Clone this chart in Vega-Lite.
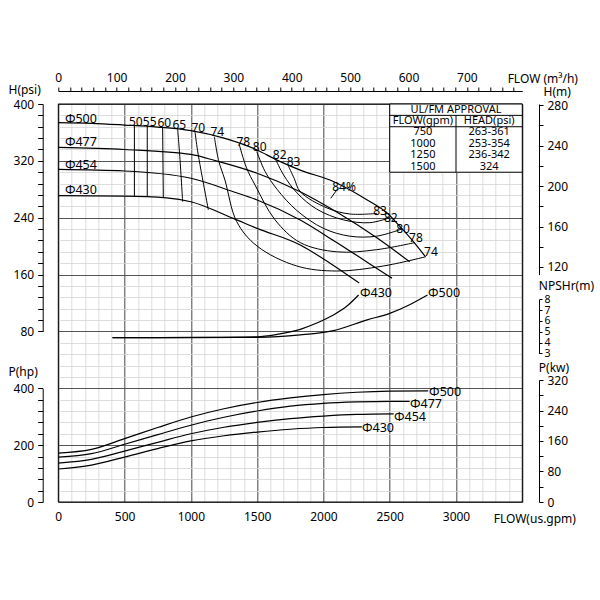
{
  "$schema": "https://vega.github.io/schema/vega-lite/v6.json",
  "width": 464,
  "height": 398,
  "autosize": {"type": "none"},
  "padding": {"left": 58.3, "top": 104, "right": 77.7, "bottom": 98},
  "background": "white",
  "config": {
    "view": {"stroke": null},
    "font": "Noto Sans",
    "axis": {"labelFont": "Noto Sans", "titleFont": "Noto Sans", "labelFontSize": 12, "titleFontSize": 12, "titleFontWeight": "normal", "labelColor": "#000", "titleColor": "#000", "domainColor": "#000", "tickColor": "#000", "labelFlush": false, "labelOverlap": false},
    "text": {"font": "Noto Sans", "fontSize": 12, "color": "#000"}
  },
  "datasets": {
    "frame": [{"q": 0, "q2": 3500, "h": -160, "h2": 400}],
    "head": [
      {"d": "Φ500", "q": 0, "h": 373.7}, {"d": "Φ500", "q": 250, "h": 372.8}, {"d": "Φ500", "q": 500, "h": 370.4}, {"d": "Φ500", "q": 750, "h": 367.5}, {"d": "Φ500", "q": 1000, "h": 362.5}, {"d": "Φ500", "q": 1250, "h": 352}, {"d": "Φ500", "q": 1500, "h": 335.3}, {"d": "Φ500", "q": 1650, "h": 321}, {"d": "Φ500", "q": 1825, "h": 307}, {"d": "Φ500", "q": 2075, "h": 291}, {"d": "Φ500", "q": 2330, "h": 265}, {"d": "Φ500", "q": 2480, "h": 246.6}, {"d": "Φ500", "q": 2580, "h": 227}, {"d": "Φ500", "q": 2680, "h": 206}, {"d": "Φ500", "q": 2770, "h": 185},
      {"d": "Φ477", "q": 0, "h": 339}, {"d": "Φ477", "q": 500, "h": 336}, {"d": "Φ477", "q": 1000, "h": 329}, {"d": "Φ477", "q": 1190, "h": 320}, {"d": "Φ477", "q": 1500, "h": 302.5}, {"d": "Φ477", "q": 1825, "h": 276.6}, {"d": "Φ477", "q": 2100, "h": 248}, {"d": "Φ477", "q": 2400, "h": 212}, {"d": "Φ477", "q": 2650, "h": 178},
      {"d": "Φ454", "q": 0, "h": 308}, {"d": "Φ454", "q": 500, "h": 305.7}, {"d": "Φ454", "q": 1000, "h": 295.5}, {"d": "Φ454", "q": 1320, "h": 276.6}, {"d": "Φ454", "q": 1500, "h": 265}, {"d": "Φ454", "q": 1825, "h": 236.8}, {"d": "Φ454", "q": 2100, "h": 205}, {"d": "Φ454", "q": 2350, "h": 175}, {"d": "Φ454", "q": 2517, "h": 155},
      {"d": "Φ430", "q": 0, "h": 271}, {"d": "Φ430", "q": 500, "h": 270.5}, {"d": "Φ430", "q": 817, "h": 268}, {"d": "Φ430", "q": 1000, "h": 262.5}, {"d": "Φ430", "q": 1320, "h": 239}, {"d": "Φ430", "q": 1500, "h": 225}, {"d": "Φ430", "q": 1825, "h": 201.6}, {"d": "Φ430", "q": 2050, "h": 176}, {"d": "Φ430", "q": 2270, "h": 148}
    ],
    "eff": [
      {"e": "50", "q": 574, "h": 369.8}, {"e": "50", "q": 574, "h": 270.3},
      {"e": "55", "q": 671, "h": 369}, {"e": "55", "q": 671, "h": 269.8},
      {"e": "60", "q": 787, "h": 367.3}, {"e": "60", "q": 792, "h": 268.3},
      {"e": "65", "q": 900, "h": 365}, {"e": "65", "q": 915, "h": 330}, {"e": "65", "q": 938, "h": 262.5},
      {"e": "70", "q": 1031, "h": 361}, {"e": "70", "q": 1050, "h": 335}, {"e": "70", "q": 1076, "h": 307}, {"e": "70", "q": 1132, "h": 251},
      {"e": "74", "q": 1177, "h": 354}, {"e": "74", "q": 1210, "h": 320}, {"e": "74", "q": 1257, "h": 293}, {"e": "74", "q": 1346, "h": 234.4}, {"e": "74", "q": 1500, "h": 200}, {"e": "74", "q": 1800, "h": 172}, {"e": "74", "q": 2100, "h": 165}, {"e": "74", "q": 2450, "h": 172}, {"e": "74", "q": 2770, "h": 185},
      {"e": "78", "q": 1365, "h": 343}, {"e": "78", "q": 1420, "h": 310}, {"e": "78", "q": 1484, "h": 286}, {"e": "78", "q": 1635, "h": 237}, {"e": "78", "q": 1825, "h": 205}, {"e": "78", "q": 2100, "h": 192}, {"e": "78", "q": 2400, "h": 195}, {"e": "78", "q": 2690, "h": 205},
      {"e": "80", "q": 1497, "h": 333}, {"e": "80", "q": 1560, "h": 305}, {"e": "80", "q": 1650, "h": 280}, {"e": "80", "q": 1800, "h": 250}, {"e": "80", "q": 2000, "h": 225}, {"e": "80", "q": 2200, "h": 214}, {"e": "80", "q": 2400, "h": 214}, {"e": "80", "q": 2590, "h": 224},
      {"e": "82", "q": 1642, "h": 321}, {"e": "82", "q": 1700, "h": 300}, {"e": "82", "q": 1800, "h": 275}, {"e": "82", "q": 1950, "h": 252}, {"e": "82", "q": 2150, "h": 237}, {"e": "82", "q": 2350, "h": 233}, {"e": "82", "q": 2500, "h": 240},
      {"e": "83", "q": 1735, "h": 313}, {"e": "83", "q": 1780, "h": 295}, {"e": "83", "q": 1825, "h": 276.6}, {"e": "83", "q": 2027, "h": 253.7}, {"e": "83", "q": 2200, "h": 245.2}, {"e": "83", "q": 2403, "h": 246},
      {"e": "84", "q": 2055, "h": 267.3}, {"e": "84", "q": 2110, "h": 281.4}
    ],
    "effLabels": [
      {"t": "50", "q": 585, "h": 375.1}, {"t": "55", "q": 689, "h": 375.1}, {"t": "60", "q": 800, "h": 373.7}, {"t": "65", "q": 913, "h": 370.5}, {"t": "70", "q": 1056, "h": 365.8}, {"t": "74", "q": 1199, "h": 361}, {"t": "78", "q": 1395, "h": 347}, {"t": "80", "q": 1519, "h": 339.1}, {"t": "82", "q": 1670, "h": 328.2}, {"t": "83", "q": 1775, "h": 318.8}, {"t": "84%", "q": 2155, "h": 283.2},
      {"t": "83", "q": 2427, "h": 249.4}, {"t": "82", "q": 2508, "h": 239.6}, {"t": "80", "q": 2600, "h": 224}, {"t": "78", "q": 2698, "h": 211.5}, {"t": "74", "q": 2811, "h": 191.7}
    ],
    "headLabels": [
      {"t": "Φ500", "q": 50, "h": 378.5}, {"t": "Φ477", "q": 50, "h": 346}, {"t": "Φ454", "q": 50, "h": 314}, {"t": "Φ430", "q": 50, "h": 279}
    ],
    "tableBox": [{"q": 2500, "q2": 3500, "h": 304, "h2": 400}],
    "tableLines": [
      {"q": 2500, "q2": 3500, "h": 384, "h2": 384}, {"q": 2500, "q2": 3500, "h": 368, "h2": 368}, {"q": 3000, "q2": 3000, "h": 384, "h2": 304}
    ],
    "tableText": [
      {"t": "UL/FM APPROVAL", "q": 3000, "h": 392},
      {"t": "FLOW(gpm)", "q": 2750, "h": 376}, {"t": "HEAD(psi)", "q": 3250, "h": 376},
      {"t": "750", "q": 2750, "h": 360}, {"t": "263-361", "q": 3250, "h": 360},
      {"t": "1000", "q": 2750, "h": 344}, {"t": "253-354", "q": 3250, "h": 344},
      {"t": "1250", "q": 2750, "h": 328}, {"t": "236-342", "q": 3250, "h": 328},
      {"t": "1500", "q": 2750, "h": 312}, {"t": "324", "q": 3250, "h": 312}
    ],
    "npsh": [
      {"d": "Φ430", "q": 409, "n": 4.45}, {"d": "Φ430", "q": 1000, "n": 4.47}, {"d": "Φ430", "q": 1500, "n": 4.53}, {"d": "Φ430", "q": 1650, "n": 4.75}, {"d": "Φ430", "q": 1825, "n": 5.22}, {"d": "Φ430", "q": 1950, "n": 5.8}, {"d": "Φ430", "q": 2075, "n": 6.55}, {"d": "Φ430", "q": 2180, "n": 7.4}, {"d": "Φ430", "q": 2265, "n": 8.4},
      {"d": "Φ500", "q": 409, "n": 4.45}, {"d": "Φ500", "q": 1000, "n": 4.46}, {"d": "Φ500", "q": 1500, "n": 4.48}, {"d": "Φ500", "q": 1825, "n": 4.7}, {"d": "Φ500", "q": 2075, "n": 5.1}, {"d": "Φ500", "q": 2330, "n": 6.1}, {"d": "Φ500", "q": 2500, "n": 6.7}, {"d": "Φ500", "q": 2650, "n": 7.5}, {"d": "Φ500", "q": 2785, "n": 8.4}
    ],
    "npshLabels": [{"t": "Φ430", "q": 2276, "n": 8.55}, {"t": "Φ500", "q": 2789, "n": 8.55}],
    "power": [
      {"d": "Φ500", "q": 0, "p": 172}, {"d": "Φ500", "q": 250, "p": 185}, {"d": "Φ500", "q": 500, "p": 223}, {"d": "Φ500", "q": 750, "p": 262}, {"d": "Φ500", "q": 1000, "p": 299}, {"d": "Φ500", "q": 1250, "p": 328}, {"d": "Φ500", "q": 1500, "p": 350}, {"d": "Φ500", "q": 1750, "p": 366}, {"d": "Φ500", "q": 2000, "p": 378}, {"d": "Φ500", "q": 2250, "p": 386}, {"d": "Φ500", "q": 2500, "p": 390}, {"d": "Φ500", "q": 2790, "p": 391},
      {"d": "Φ477", "q": 0, "p": 158}, {"d": "Φ477", "q": 250, "p": 170}, {"d": "Φ477", "q": 500, "p": 203}, {"d": "Φ477", "q": 750, "p": 237}, {"d": "Φ477", "q": 1000, "p": 270}, {"d": "Φ477", "q": 1250, "p": 298}, {"d": "Φ477", "q": 1500, "p": 320}, {"d": "Φ477", "q": 1750, "p": 337}, {"d": "Φ477", "q": 2000, "p": 347}, {"d": "Φ477", "q": 2250, "p": 352}, {"d": "Φ477", "q": 2500, "p": 354}, {"d": "Φ477", "q": 2650, "p": 354},
      {"d": "Φ454", "q": 0, "p": 137}, {"d": "Φ454", "q": 250, "p": 150}, {"d": "Φ454", "q": 500, "p": 179}, {"d": "Φ454", "q": 750, "p": 210}, {"d": "Φ454", "q": 1000, "p": 240}, {"d": "Φ454", "q": 1250, "p": 263}, {"d": "Φ454", "q": 1500, "p": 280}, {"d": "Φ454", "q": 1750, "p": 293}, {"d": "Φ454", "q": 2000, "p": 302}, {"d": "Φ454", "q": 2250, "p": 308}, {"d": "Φ454", "q": 2530, "p": 310},
      {"d": "Φ430", "q": 0, "p": 116}, {"d": "Φ430", "q": 250, "p": 130}, {"d": "Φ430", "q": 500, "p": 158}, {"d": "Φ430", "q": 750, "p": 188}, {"d": "Φ430", "q": 1000, "p": 215}, {"d": "Φ430", "q": 1250, "p": 233}, {"d": "Φ430", "q": 1500, "p": 246}, {"d": "Φ430", "q": 1750, "p": 256}, {"d": "Φ430", "q": 2000, "p": 262}, {"d": "Φ430", "q": 2290, "p": 264}
    ],
    "powerLabels": [
      {"t": "Φ500", "q": 2797, "p": 387}, {"t": "Φ477", "q": 2653, "p": 343}, {"t": "Φ454", "q": 2532, "p": 299}, {"t": "Φ430", "q": 2291, "p": 260}
    ]
  },
  "resolve": {"scale": {"y": "independent"}, "axis": {"x": "independent", "y": "independent"}},
  "layer": [
    {
      "data": {"name": "frame"},
      "mark": {"type": "rect", "opacity": 0},
      "encoding": {
        "x": {"field": "q", "type": "quantitative", "scale": {"domain": [0, 3500], "nice": false, "zero": false},
          "axis": {"orient": "bottom", "values": [0,100,200,300,400,500,600,700,800,900,1000,1100,1200,1300,1400,1500,1600,1700,1800,1900,2000,2100,2200,2300,2400,2500,2600,2700,2800,2900,3000,3100,3200,3300,3400,3500], "grid": true, "gridColor": "#d4d4d4", "gridWidth": 0.8, "labels": false, "ticks": false, "tickSize": 0, "domain": false, "title": null}},
        "x2": {"field": "q2"},
        "y": {"field": "h", "type": "quantitative", "scale": {"domain": [-160, 400], "nice": false, "zero": false},
          "axis": {"orient": "left", "values": [-160,-144,-128,-112,-96,-80,-64,-48,-32,-16,0,16,32,48,64,80,96,112,128,144,160,176,192,208,224,240,256,272,288,304,320,336,352,368,384,400], "grid": true, "gridColor": "#d4d4d4", "gridWidth": 0.8, "labels": false, "ticks": false, "tickSize": 0, "domain": false, "title": null}},
        "y2": {"field": "h2"}
      }
    },
    {
      "data": {"name": "frame"},
      "mark": {"type": "rect", "fill": null, "stroke": "#000", "strokeWidth": 1},
      "encoding": {
        "x": {"field": "q", "type": "quantitative", "scale": {"domain": [0, 3500], "nice": false, "zero": false},
          "axis": {"orient": "bottom", "values": [0,500,1000,1500,2000,2500,3000,3500], "format": "d", "grid": true, "gridColor": "#555", "gridWidth": 1, "ticks": false, "tickSize": 0, "domain": false, "labelPadding": 9, "labelExpr": "datum.value == 3500 ? '' : datum.label", "title": "FLOW(us.gpm)", "titleX": 476, "titleY": 16, "titleAlign": "center", "titleBaseline": "middle"}},
        "x2": {"field": "q2"},
        "y": {"field": "h", "type": "quantitative", "scale": {"domain": [-160, 400], "nice": false, "zero": false},
          "axis": {"orient": "left", "values": [-160,-80,0,80,160,240,320,400], "grid": true, "gridColor": "#555", "gridWidth": 1, "labels": false, "ticks": false, "tickSize": 0, "domain": false, "title": null}},
        "y2": {"field": "h2"}
      }
    },
    {
      "data": {"name": "tableBox"},
      "mark": {"type": "rect", "fill": "white", "stroke": "#000", "strokeWidth": 1},
      "encoding": {
        "x": {"field": "q", "type": "quantitative", "scale": {"domain": [0, 3500], "nice": false, "zero": false}, "axis": null},
        "x2": {"field": "q2"},
        "y": {"field": "h", "type": "quantitative", "scale": {"domain": [80, 400], "range": [227.43, 0], "nice": false, "zero": false}, "axis": null},
        "y2": {"field": "h2"}
      }
    },
    {
      "data": {"name": "tableLines"},
      "mark": {"type": "rule", "color": "#000", "strokeWidth": 1},
      "encoding": {
        "x": {"field": "q", "type": "quantitative", "scale": {"domain": [0, 3500], "nice": false, "zero": false}, "axis": null},
        "x2": {"field": "q2"},
        "y": {"field": "h", "type": "quantitative", "scale": {"domain": [80, 400], "range": [227.43, 0], "nice": false, "zero": false}, "axis": null},
        "y2": {"field": "h2"}
      }
    },
    {
      "data": {"name": "tableText"},
      "mark": {"type": "text", "align": "center", "baseline": "middle", "fontSize": 11},
      "encoding": {
        "x": {"field": "q", "type": "quantitative", "scale": {"domain": [0, 3500], "nice": false, "zero": false}, "axis": null},
        "y": {"field": "h", "type": "quantitative", "scale": {"domain": [80, 400], "range": [227.43, 0], "nice": false, "zero": false}, "axis": null},
        "text": {"field": "t"}
      }
    },
    {
      "data": {"name": "head"},
      "mark": {"type": "line", "color": "#000", "strokeWidth": 1.2, "interpolate": "monotone"},
      "encoding": {
        "x": {"field": "q", "type": "quantitative", "scale": {"domain": [0, 3500], "nice": false, "zero": false},
          "axis": {"orient": "top", "offset": 13, "values": [0,88.057,176.115,264.172,352.23,440.287,528.344,616.402,704.459,792.517,880.574,968.631,1056.689,1144.746,1232.804,1320.861,1408.918,1496.976,1585.033,1673.091,1761.148,1849.205,1937.263,2025.32,2113.378,2201.435,2289.492,2377.55,2465.607,2553.665,2641.722,2729.779,2817.837,2905.894,2993.952,3082.009,3170.066,3258.124,3346.181,3434.239], "tickSize": 4, "labelPadding": 3, "grid": false, "labelExpr": "round(datum.value/4.40287) % 100 == 0 ? format(round(datum.value/4.40287), 'd') : ''", "title": "FLOW (m³/h)", "titleX": 484, "titleY": -13, "titleAlign": "center", "titleBaseline": "middle"}},
        "y": {"field": "h", "type": "quantitative", "scale": {"domain": [80, 400], "range": [227.43, 0], "nice": false, "zero": false},
          "axis": {"orient": "left", "offset": 15.6, "values": [80,96,112,128,144,160,176,192,208,224,240,256,272,288,304,320,336,352,368,384,400], "tickSize": 5, "labelPadding": 4, "grid": false, "labelExpr": "datum.value % 80 == 0 ? datum.label : ''", "title": "H(psi)", "titleAngle": 0, "titleAlign": "left", "titleBaseline": "middle", "titleX": -34.7, "titleY": -15}},
        "detail": {"field": "d"}
      }
    },
    {
      "data": {"name": "eff"},
      "mark": {"type": "line", "color": "#000", "strokeWidth": 1, "interpolate": "catmull-rom"},
      "encoding": {
        "x": {"field": "q", "type": "quantitative", "scale": {"domain": [0, 3500], "nice": false, "zero": false}, "axis": null},
        "y": {"field": "h", "type": "quantitative", "scale": {"domain": [80, 400], "range": [227.43, 0], "nice": false, "zero": false}, "axis": null},
        "detail": {"field": "e"},
        "order": {"value": null}
      }
    },
    {
      "data": {"name": "headLabels"},
      "mark": {"type": "text", "align": "left", "baseline": "middle", "fontSize": 12.5},
      "encoding": {
        "x": {"field": "q", "type": "quantitative", "scale": {"domain": [0, 3500], "nice": false, "zero": false}, "axis": null},
        "y": {"field": "h", "type": "quantitative", "scale": {"domain": [80, 400], "range": [227.43, 0], "nice": false, "zero": false}, "axis": null},
        "text": {"field": "t"}
      }
    },
    {
      "data": {"name": "effLabels"},
      "mark": {"type": "text", "align": "center", "baseline": "middle", "fontSize": 12},
      "encoding": {
        "x": {"field": "q", "type": "quantitative", "scale": {"domain": [0, 3500], "nice": false, "zero": false}, "axis": null},
        "y": {"field": "h", "type": "quantitative", "scale": {"domain": [160, 400], "range": [170.57, 0], "nice": false, "zero": false},
          "axis": {"orient": "right", "offset": 16.7, "values": [170.68,199.127,227.573,256.02,284.467,312.913,341.36,369.807,398.253], "tickSize": 4, "labelPadding": 4, "grid": false, "labelExpr": "round(datum.value*0.70307) % 40 == 0 ? format(round(datum.value*0.70307), 'd') : ''", "title": "H(m)", "titleAngle": 0, "titleAlign": "left", "titleBaseline": "middle", "titleX": 4, "titleY": -13}},
        "text": {"field": "t"}
      }
    },
    {
      "data": {"name": "npsh"},
      "mark": {"type": "line", "color": "#000", "strokeWidth": 1.2, "interpolate": "monotone"},
      "encoding": {
        "x": {"field": "q", "type": "quantitative", "scale": {"domain": [0, 3500], "nice": false, "zero": false}, "axis": null},
        "y": {"field": "n", "type": "quantitative", "scale": {"domain": [3, 8], "range": [249.3, 195.3], "nice": false, "zero": false},
          "axis": {"orient": "right", "offset": 16.7, "values": [3,4,5,6,7,8], "tickSize": 3, "labelPadding": 2, "labelFontSize": 10.5, "grid": false, "title": "NPSHr(m)", "titleAngle": 0, "titleAlign": "left", "titleBaseline": "middle", "titleX": -0.7, "titleY": 181}},
        "detail": {"field": "d"}
      }
    },
    {
      "data": {"name": "npshLabels"},
      "mark": {"type": "text", "align": "left", "baseline": "middle", "fontSize": 12.5},
      "encoding": {
        "x": {"field": "q", "type": "quantitative", "scale": {"domain": [0, 3500], "nice": false, "zero": false}, "axis": null},
        "y": {"field": "n", "type": "quantitative", "scale": {"domain": [3, 8], "range": [249.3, 195.3], "nice": false, "zero": false}, "axis": null},
        "text": {"field": "t"}
      }
    },
    {
      "data": {"name": "power"},
      "mark": {"type": "line", "color": "#000", "strokeWidth": 1.2, "interpolate": "monotone"},
      "encoding": {
        "x": {"field": "q", "type": "quantitative", "scale": {"domain": [0, 3500], "nice": false, "zero": false}, "axis": null},
        "y": {"field": "p", "type": "quantitative", "scale": {"domain": [0, 400], "range": [398, 284.29], "nice": false, "zero": false},
          "axis": {"orient": "left", "offset": 15.6, "values": [0,40,80,120,160,200,240,280,320,360,400], "tickSize": 5, "labelPadding": 4, "grid": false, "labelExpr": "datum.value % 200 == 0 ? datum.label : ''", "title": "P(hp)", "titleAngle": 0, "titleAlign": "left", "titleBaseline": "middle", "titleX": -34.7, "titleY": 267}},
        "detail": {"field": "d"}
      }
    },
    {
      "data": {"name": "powerLabels"},
      "mark": {"type": "text", "align": "left", "baseline": "middle", "fontSize": 12.5},
      "encoding": {
        "x": {"field": "q", "type": "quantitative", "scale": {"domain": [0, 3500], "nice": false, "zero": false}, "axis": null},
        "y": {"field": "p", "type": "quantitative", "scale": {"domain": [0, 429.127], "range": [398, 276.0], "nice": false, "zero": false},
          "axis": {"orient": "right", "offset": 16.7, "values": [0,53.641,107.282,160.923,214.564,268.204,321.845,375.486,429.127], "tickSize": 4, "labelPadding": 4, "grid": false, "labelExpr": "round(datum.value*0.7457) % 80 == 0 ? format(round(datum.value*0.7457), 'd') : ''", "title": "P(kw)", "titleAngle": 0, "titleAlign": "left", "titleBaseline": "middle", "titleX": -0.7, "titleY": 263}},
        "text": {"field": "t"}
      }
    }
  ]
}
